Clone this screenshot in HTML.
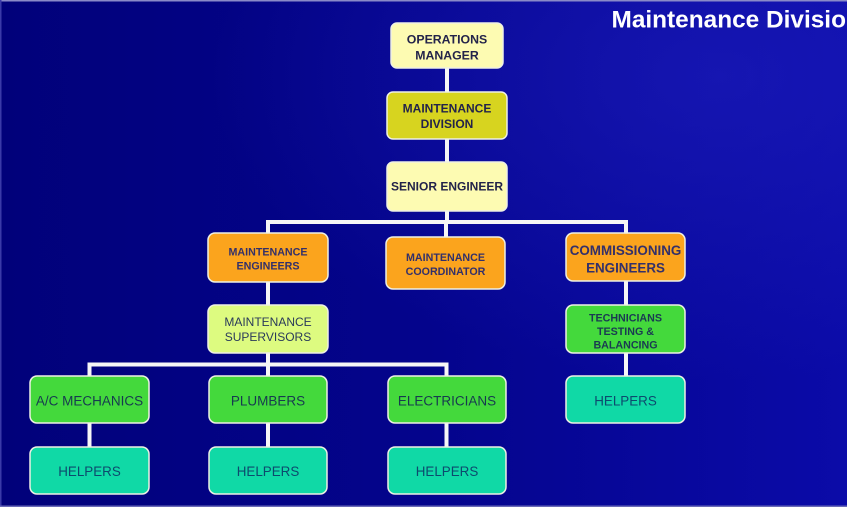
<!DOCTYPE html>
<html>
<head>
<meta charset="utf-8">
<style>
html,body{margin:0;padding:0;}
body{width:847px;height:507px;overflow:hidden;background:#03037e;}
svg{display:block;}
text{font-family:"Liberation Sans",Arial,sans-serif;text-anchor:middle;}
</style>
</head>
<body>
<svg width="847" height="507" viewBox="0 0 847 507" xmlns="http://www.w3.org/2000/svg">
  <defs>
    <linearGradient id="bg" x1="0" y1="0" x2="1" y2="0">
      <stop offset="0" stop-color="#01017a"/>
      <stop offset="0.5" stop-color="#04048c"/>
      <stop offset="1" stop-color="#0b0ba8"/>
    </linearGradient>
    <radialGradient id="glow" cx="0.85" cy="0.15" r="0.6">
      <stop offset="0" stop-color="#2020c0" stop-opacity="0.55"/>
      <stop offset="1" stop-color="#2020c0" stop-opacity="0"/>
    </radialGradient>
  </defs>
  <rect x="0" y="0" width="847" height="507" fill="url(#bg)"/>
  <rect x="0" y="0" width="847" height="507" fill="url(#glow)"/>
  <rect x="0" y="0" width="847" height="1.5" fill="#8a8ac8"/>
  <rect x="0" y="0" width="1.5" height="507" fill="#3a3aa8"/>
  <rect x="0" y="505.5" width="847" height="1.5" fill="#6a6ab8"/>

  <text x="611.5" y="27.5" font-size="24.4" font-weight="bold" fill="#ffffff" style="text-anchor:start">Maintenance Divisio</text>

  <!-- connectors -->
  <g stroke="#f6f6f6" stroke-width="4" fill="none">
    <line x1="447" y1="67" x2="447" y2="93"/>
    <line x1="447" y1="138" x2="447" y2="163"/>
    <line x1="447" y1="210" x2="447" y2="222"/>
    <line x1="266" y1="222" x2="628" y2="222"/>
    <line x1="268" y1="220" x2="268" y2="234"/>
    <line x1="446" y1="220" x2="446" y2="238"/>
    <line x1="626" y1="220" x2="626" y2="234"/>
    <line x1="268" y1="281" x2="268" y2="306"/>
    <line x1="268" y1="352" x2="268" y2="377"/>
    <line x1="87.5" y1="364.5" x2="448.5" y2="364.5"/>
    <line x1="89.5" y1="362.5" x2="89.5" y2="377"/>
    <line x1="446.5" y1="362.5" x2="446.5" y2="377"/>
    <line x1="89.5" y1="422" x2="89.5" y2="448"/>
    <line x1="268" y1="422" x2="268" y2="448"/>
    <line x1="446.5" y1="422" x2="446.5" y2="448"/>
    <line x1="626" y1="280" x2="626" y2="306"/>
    <line x1="626" y1="352" x2="626" y2="377"/>
  </g>

  <!-- boxes -->
  <g stroke="#eef0e4" stroke-width="1.5">
    <rect x="391" y="23" width="112" height="45" rx="6" fill="#fdfbb2"/>
    <rect x="387" y="92" width="120" height="47" rx="6" fill="#d7d41f"/>
    <rect x="387" y="162" width="120" height="49" rx="6" fill="#fdfbb2"/>
    <rect x="208" y="233" width="120" height="49" rx="7" fill="#fba41d"/>
    <rect x="386" y="237" width="119" height="52" rx="7" fill="#fba41d"/>
    <rect x="566" y="233" width="119" height="48" rx="7" fill="#fba41d"/>
    <rect x="208" y="305" width="120" height="48" rx="7" fill="#ddfb80"/>
    <rect x="566" y="305" width="119" height="48" rx="7" fill="#44d93c"/>
    <rect x="30" y="376" width="119" height="47" rx="7" fill="#44d93c"/>
    <rect x="209" y="376" width="118" height="47" rx="7" fill="#44d93c"/>
    <rect x="388" y="376" width="118" height="47" rx="7" fill="#44d93c"/>
    <rect x="566" y="376" width="119" height="47" rx="7" fill="#10d9a6"/>
    <rect x="30" y="447" width="119" height="47" rx="7" fill="#10d9a6"/>
    <rect x="209" y="447" width="118" height="47" rx="7" fill="#10d9a6"/>
    <rect x="388" y="447" width="118" height="47" rx="7" fill="#10d9a6"/>
  </g>

  <!-- labels -->
  <g font-weight="bold" fill="#23234a">
    <text x="447" y="43.5" font-size="12.3">OPERATIONS</text>
    <text x="447" y="59.5" font-size="12.3">MANAGER</text>
    <text x="447" y="112.5" font-size="12">MAINTENANCE</text>
    <text x="447" y="128" font-size="12">DIVISION</text>
    <text x="447" y="190.5" font-size="12">SENIOR ENGINEER</text>
  </g>
  <g font-weight="bold" fill="#33306a">
    <text x="268" y="255.5" font-size="10.7">MAINTENANCE</text>
    <text x="268" y="269.3" font-size="10.7">ENGINEERS</text>
    <text x="445.5" y="261" font-size="10.7">MAINTENANCE</text>
    <text x="445.5" y="275" font-size="10.7">COORDINATOR</text>
    <text x="625.5" y="255" font-size="13.4">COMMISSIONING</text>
    <text x="625.5" y="272.3" font-size="13.4">ENGINEERS</text>
  </g>
  <g fill="#2a3a5a">
    <text x="268" y="326" font-size="12">MAINTENANCE</text>
    <text x="268" y="341" font-size="12">SUPERVISORS</text>
  </g>
  <g font-weight="bold" fill="#1a3a52" font-size="10.7">
    <text x="625.5" y="321.7">TECHNICIANS</text>
    <text x="625.5" y="335">TESTING &amp;</text>
    <text x="625.5" y="348.3">BALANCING</text>
  </g>
  <g fill="#173a50" font-size="13.5">
    <text x="89.5" y="405.7">A/C MECHANICS</text>
    <text x="268" y="405.7">PLUMBERS</text>
    <text x="447" y="405.7">ELECTRICIANS</text>
  </g>
  <g fill="#0d4a6e" font-size="13.4">
    <text x="625.5" y="405.5">HELPERS</text>
    <text x="89.5" y="476">HELPERS</text>
    <text x="268" y="476">HELPERS</text>
    <text x="447" y="476">HELPERS</text>
  </g>
</svg>
</body>
</html>
